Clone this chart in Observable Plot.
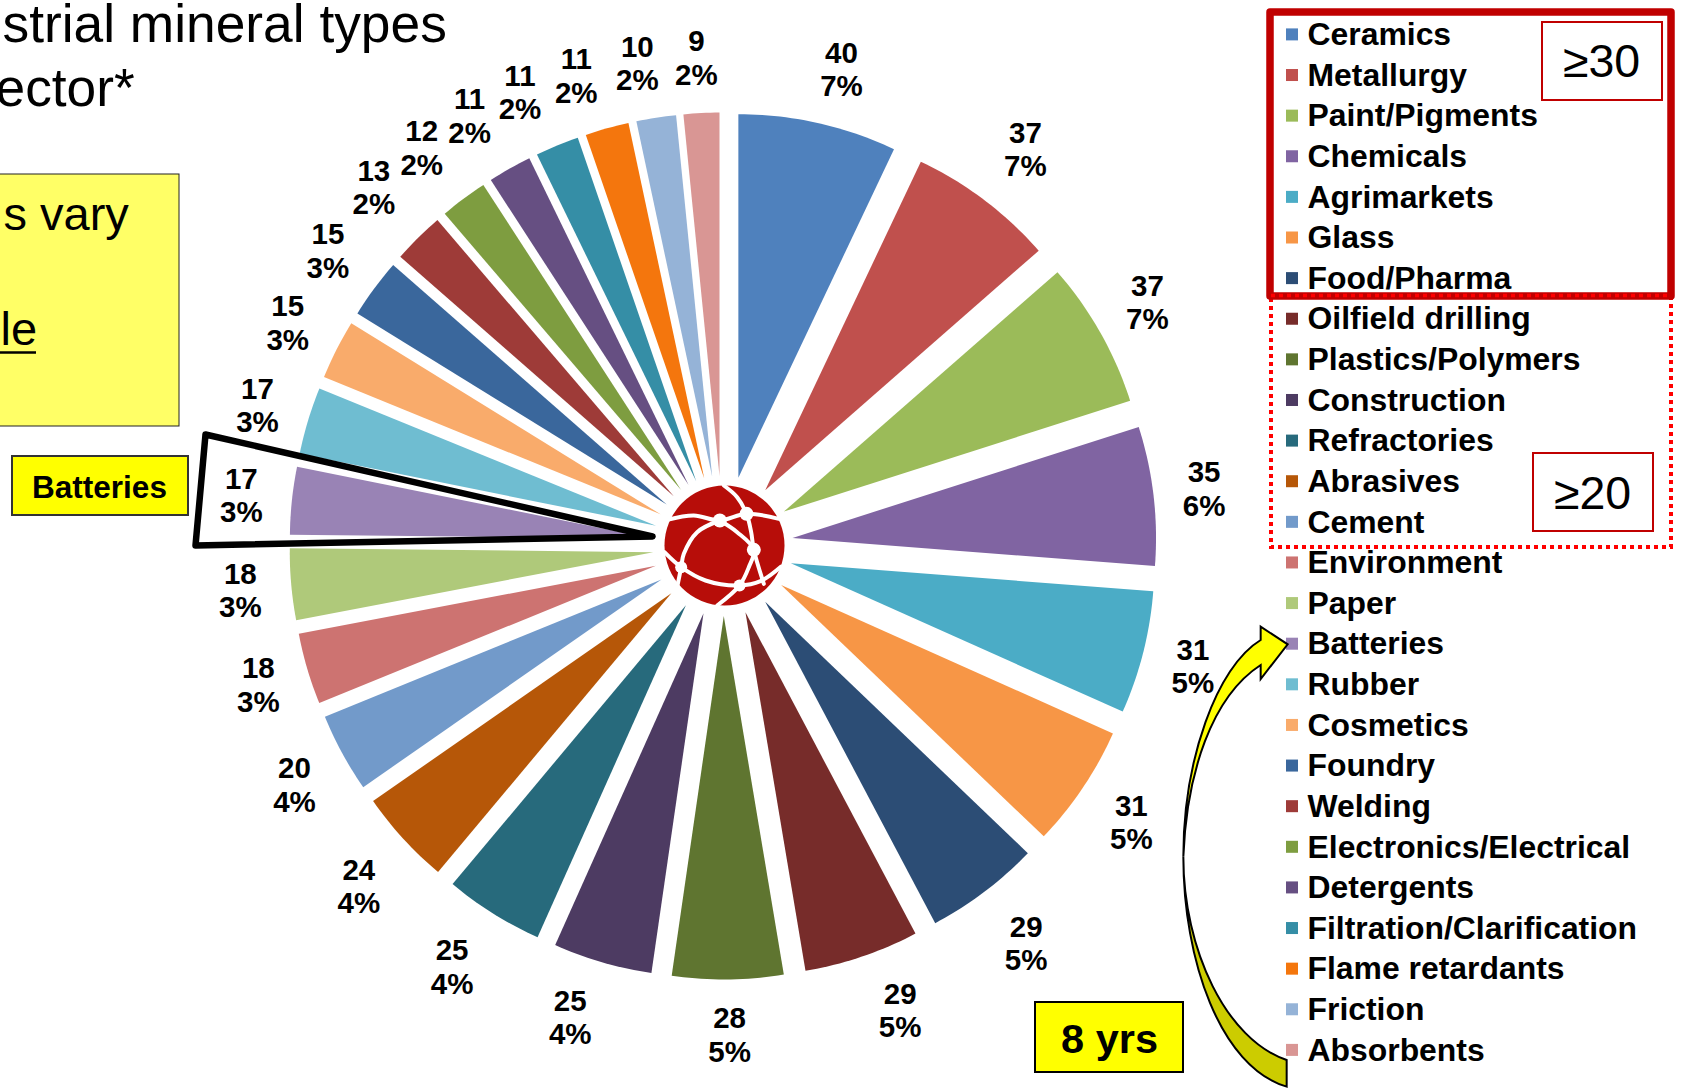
<!DOCTYPE html>
<html><head><meta charset="utf-8">
<script src="https://cdn.jsdelivr.net/npm/d3@7"></script>
<script src="https://cdn.jsdelivr.net/npm/@observablehq/plot@0.6"></script>
<style>html,body{margin:0;padding:0;background:#fff;overflow:hidden}svg{display:block}</style>
</head><body><div id="chart"></div>
<script>
const categories = ["Ceramics","Metallurgy","Paint/Pigments","Chemicals","Agrimarkets","Glass","Food/Pharma","Oilfield drilling","Plastics/Polymers","Construction","Refractories","Abrasives","Cement","Environment","Paper","Batteries","Rubber","Cosmetics","Foundry","Welding","Electronics/Electrical","Detergents","Filtration/Clarification","Flame retardants","Friction","Absorbents"];
const counts = [40,37,37,35,31,31,29,29,28,25,25,24,20,18,18,17,17,15,15,13,12,11,11,11,10,9];
const colors = ["#4F81BD","#C0504D","#9BBB59","#8064A2","#4BACC6","#F79646","#2C4D75","#772C2A","#5F7530","#4D3B62","#276A7C","#B65708","#729ACA","#CD7371","#AFC97A","#9983B5","#6FBDD1","#F9AB6B","#3A679C","#9E3B38","#7E9D40","#664F82","#358EA6","#F4760D","#95B3D7","#D99694"];

const FONT = "'Liberation Sans', Arial, sans-serif";
const cx = 722.5, cy = 545.5, R = 363.5, EXPLODE = 70;
// label placement relative to each slice's bisector
const labelCx = 722, labelCy = 546.5, labelScale = 1.0733;
const labelRadii = [459,466,457,452,452,459,465,462,454,460,465,463,456,451,451,451,453,456,460,467,466,466,464,460,458,457];
const labelTurn = [1.3,0.2,-0.5,-0.3,-0.1,0,-0.4,-2.3,-0.2,1.8,0.8,-0.5,-0.5,0,0,0.2,0.2,0.4,0.5,0.6,-0.2,-0.9,-1.5,-1.7,-1.1,-0.2];

const total = d3.sum(counts);
let running = 0;
const slices = counts.map((v, i) => {
  const a0 = running / total * 2 * Math.PI; running += v;
  const a1 = running / total * 2 * Math.PI;
  return {category: categories[i], value: v, a0, a1, mid: (a0 + a1) / 2, i};
});
const polar = (r, a) => [cx + r * Math.sin(a), cy - r * Math.cos(a)];
const slicePts = slices.flatMap(s => {
  const ox = EXPLODE * Math.sin(s.mid), oy = -EXPLODE * Math.cos(s.mid);
  const pts = [{category: s.category, x: cx + ox, y: cy + oy}];
  const n = Math.max(8, Math.ceil((s.a1 - s.a0) * 60));
  for (let k = 0; k <= n; k++) {
    const [x, y] = polar(R, s.a0 + (s.a1 - s.a0) * k / n);
    pts.push({category: s.category, x: x + ox, y: y + oy});
  }
  return pts;
});
const labels = slices.map((s, i) => {
  const a = s.mid + labelTurn[i] * Math.PI / 180, r = labelRadii[i] * labelScale;
  return {x: labelCx + r * Math.sin(a), y: labelCy - r * Math.cos(a), text: `${s.value}\n${Math.round(s.value / total * 100)}%`};
});
const ROW0 = 34.4, ROW = 40.62;
const legend = categories.map((c, i) => ({category: c, y: ROW0 + i * ROW}));

const note = (text, x, base, size, o = {}) => Plot.text([{x, y: base - 0.32 * size, text}], {
  x: "x", y: "y", text: "text", fontSize: size, fontFamily: FONT, fill: "#000",
  textAnchor: o.anchor || "start", fontWeight: o.weight || "normal"
});
const box = (x1, x2, y1, y2, o = {}) => Plot.rect([{x1, x2, y1, y2}], {x1: "x1", x2: "x2", y1: "y1", y2: "y2", ...o});

// logo geometry in crop coordinates
const zx = x => x / 3 + 620, zy = y => y / 3 + 460;
const logoArcs = [
  [[140,178],[220,165],[298,180],[378,160],[475,175]],
  [[310,75],[350,110],[378,160],[392,215],[400,268],[430,370]],
  [[298,180],[350,215],[400,268],[385,320],[357,375],[290,435]],
  [[298,180],[230,215],[190,280],[182,320],[170,380]],
  [[132,275],[182,320],[255,360],[357,375],[420,362],[482,318]]
].flatMap((arc, g) => arc.map(([x, y]) => ({g, x: zx(x), y: zy(y)})));
const logoNodes = [[298,180,7],[378,160,7],[400,268,7],[182,320,6],[357,375,6]].map(([x, y, r]) => ({x: zx(x), y: zy(y), r}));

const arrow = (_i, scales) => {
  const X = x => scales.x(x / 3 + 1020), Y = y => scales.y(y / 3 + 600);
  const P = (x, y) => `${X(x)},${Y(y)}`;
  const g = d3.create("svg:g").attr("stroke", "#000").attr("stroke-width", 2).attr("stroke-linejoin", "miter");
  g.append("path").attr("fill", "#CCCC00").attr("d",
    `M${P(490,770)}C${P(490,1080)} ${P(600,1400)} ${P(800,1460)}L${P(800,1380)}C${P(620,1320)} ${P(490,1050)} ${P(490,770)}Z`);
  g.append("path").attr("fill", "#FFFF00").attr("d",
    `M${P(490,770)}C${P(490,480)} ${P(590,200)} ${P(722,120)}L${P(722,80)}L${P(803,133)}L${P(722,237)}L${P(722,195)}C${P(575,290)} ${P(500,520)} ${P(490,770)}Z`);
  return g.node();
};

const chart = Plot.plot({
  width: 1683, height: 1088,
  margin: 0,
  x: {domain: [0, 1683], range: [0, 1683], axis: null},
  y: {domain: [0, 1088], range: [0, 1088], axis: null},
  r: {type: "identity"},
  color: {domain: categories, range: colors},
  style: {background: "#fff", fontFamily: FONT},
  marks: [
    // title fragments and yellow note
    note("strial mineral types", 2, 41, 53.3),
    note("ector*", -5, 105, 53.3),
    box(-5, 179, 174, 426, {fill: "#FFFF66", stroke: "#222", strokeWidth: 1}),
    note("s vary", 3, 229, 47),
    note("le", 0, 344, 47),
    Plot.ruleY([{y: 352}], {y: "y", x1: () => 0, x2: () => 36, stroke: "#000", strokeWidth: 2.5}),
    box(12, 188, 456, 515, {fill: "#FFFF00", stroke: "#333", strokeWidth: 2}),
    note("Batteries", 99, 497, 31.5, {anchor: "middle", weight: "bold"}),

    // pie
    Plot.line(slicePts, {x: "x", y: "y", z: "category", fill: "category", stroke: "none", curve: "linear"}),
    Plot.text(labels, {x: "x", y: "y", text: "text", fontSize: 29.5, fontWeight: "bold", fontFamily: FONT, lineHeight: 1.13, fill: "#000"}),

    // batteries highlight
    Plot.line([{x: 205, y: 434}, {x: 652, y: 536}, {x: 195, y: 545}, {x: 205, y: 434}], {x: "x", y: "y", stroke: "#000", strokeWidth: 6.5, strokeLinejoin: "round", strokeLinecap: "round", curve: "linear"}),

    // centre logo
    Plot.dot([{x: 724, y: 545}], {x: "x", y: "y", r: 60, fill: "#B70D09", stroke: "none"}),
    Plot.line(logoArcs, {x: "x", y: "y", z: "g", stroke: "#fff", strokeWidth: 4, curve: "catmull-rom"}),
    Plot.dot(logoNodes, {x: "x", y: "y", r: "r", fill: "#fff", stroke: "none"}),

    // legend frames
    box(1271, 1671, 296, 547, {fill: "none", stroke: "#FF0000", strokeWidth: 4, strokeDasharray: "4,4"}),
    box(1270, 1671, 12, 296, {fill: "none", stroke: "#C00000", strokeWidth: 7.5, strokeLinejoin: "round"}),
    Plot.ruleY([{y: 295}], {y: "y", x1: () => 1271, x2: () => 1671, stroke: "#FF0000", strokeWidth: 3.5, strokeDasharray: "4,4"}),
    box(1542, 1662, 22, 100, {fill: "#fff", stroke: "#C00000", strokeWidth: 2}),
    note("≥30", 1601, 76.5, 46.5, {anchor: "middle"}),
    box(1533, 1653, 453, 531, {fill: "#fff", stroke: "#C00000", strokeWidth: 2}),
    note("≥20", 1592, 508, 46.5, {anchor: "middle"}),

    // legend
    Plot.rect(legend, {x1: () => 1286, x2: () => 1298, y1: d => d.y - 6, y2: d => d.y + 6, fill: "category"}),
    Plot.text(legend, {x: () => 1307, y: "y", text: "category", textAnchor: "start", fontSize: 31.9, fontWeight: "bold", fontFamily: FONT, fill: "#000"}),

    // arrow and duration box
    arrow,
    box(1035, 1183, 1002, 1072, {fill: "#FFFF00", stroke: "#000", strokeWidth: 2}),
    note("8 yrs", 1109, 1052, 41.5, {anchor: "middle", weight: "bold"})
  ]
});
document.getElementById("chart").append(chart);
</script></body></html>
